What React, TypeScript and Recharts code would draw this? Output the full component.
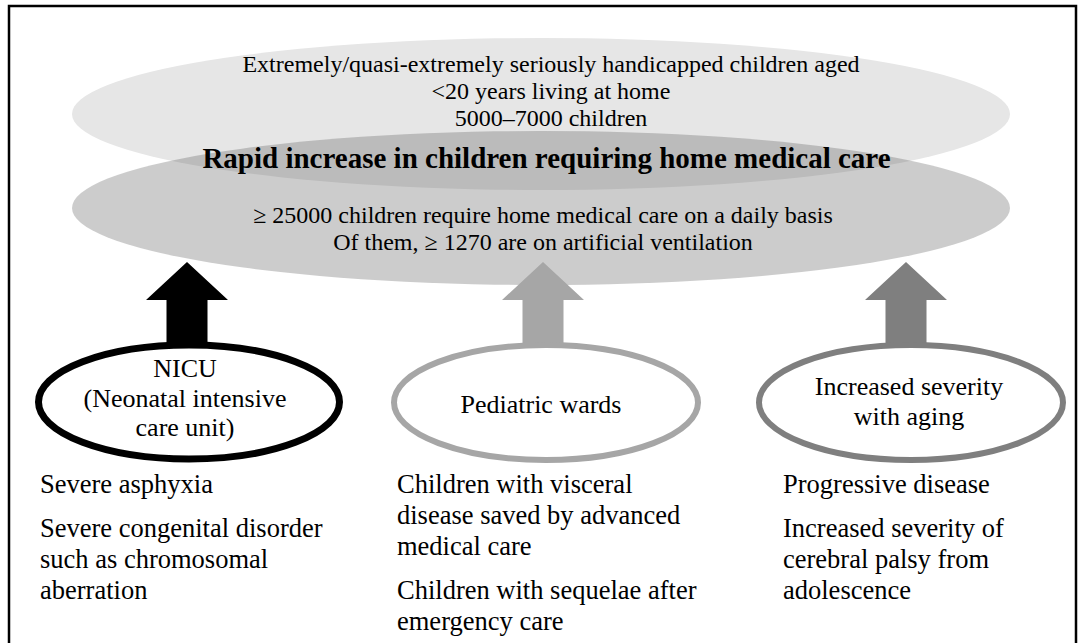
import { ScatterChart, Scatter, XAxis, YAxis, ReferenceArea } from "recharts";

const W = 1079;
const H = 643;

// texts
const burdenLines = [
  "Extremely/quasi-extremely seriously handicapped children aged",
  "<20 years living at home",
  "5000–7000 children",
];
const headline = "Rapid increase in children requiring home medical care";
const careLines = [
  "≥ 25000 children require home medical care on a daily basis",
  "Of them, ≥ 1270 are on artificial ventilation",
];
const sourceLabels = [
  ["NICU", "(Neonatal intensive", "care unit)"],
  ["Pediatric wards"],
  ["Increased severity", "with aging"],
];
const causes = [
  [["Severe asphyxia"], ["Severe congenital disorder", "such as chromosomal", "aberration"]],
  [["Children with visceral", "disease saved by advanced", "medical care"], ["Children with sequelae after", "emergency care"]],
  [["Progressive disease"], ["Increased severity of", "cerebral palsy from", "adolescence"]],
];

// anchors (page px, which equal data units here)
const cloudX = [541, 541];
const cloudY = [114, 208];
const cloudRy = [76, 77];
const sourceX = [189, 546, 911];
const sourceY = [402, 402.5, 402.5];
const labelX = [185, 541, 909];
const labelY = [377, 413, 395];
const arrowX = [187, 543, 906];
const arrowTipY = 262;
const causeX = [40, 397, 783];
const causeY = 493;

const shades = ["#000000", "#a6a6a6", "#7f7f7f"];
const FONT = "'Liberation Serif', 'Times New Roman', serif";

const clouds = cloudX.map((x, i) => ({ x, y: cloudY[i], ry: cloudRy[i], i }));
const arrows = arrowX.map((x, i) => ({ x, y: arrowTipY, i }));
const sources = sourceX.map((x, i) => ({ x, y: sourceY[i], i }));
const labels = labelX.map((x, i) => ({ x, y: labelY[i], lines: sourceLabels[i] }));
const causeBlocks = causeX.map((x, i) => ({ x, y: causeY, paras: causes[i] }));
const headerBlocks = [
  { x: 551, y: 72, lines: burdenLines, size: 24, weight: "normal", lh: 27 },
  { x: 546.5, y: 168, lines: [headline], size: 29, weight: "bold", lh: 29 },
  { x: 543, y: 223, lines: careLines, size: 24, weight: "normal", lh: 27 },
];

const Cloud = (p: any) =>
  p.payload.i === 0 ? (
    <ellipse cx={p.cx} cy={p.cy} rx={469} ry={p.payload.ry} fill="#e6e6e6" />
  ) : (
    <ellipse cx={p.cx} cy={p.cy} rx={469} ry={p.payload.ry} fill="#606060" fillOpacity={0.32} />
  );

const Arrow = (p: any) => {
  const { cx, cy } = p;
  const d = `M${cx},${cy} L${cx + 41},${cy + 38} L${cx + 20.5},${cy + 38} L${cx + 20.5},${cy + 85} L${cx - 20.5},${cy + 85} L${cx - 20.5},${cy + 38} L${cx - 41},${cy + 38} Z`;
  return <path d={d} fill={shades[p.payload.i]} />;
};

const Source = (p: any) => (
  <ellipse
    cx={p.cx}
    cy={p.cy}
    rx={p.payload.i === 0 ? 150.5 : 152}
    ry={p.payload.i === 0 ? 57 : 57.5}
    fill="#ffffff"
    stroke={shades[p.payload.i]}
    strokeWidth={p.payload.i === 0 ? 7 : 6}
  />
);

const Label = (p: any) => (
  <text x={p.cx} y={p.cy} textAnchor="middle" fontFamily={FONT} fontSize={26} fill="#000">
    {p.payload.lines.map((l: string, k: number) => (
      <tspan key={k} x={p.cx} dy={k ? 29.5 : 0}>
        {l}
      </tspan>
    ))}
  </text>
);

const Header = (p: any) => (
  <text
    x={p.cx}
    y={p.cy}
    textAnchor="middle"
    fontFamily={FONT}
    fontSize={p.payload.size}
    fontWeight={p.payload.weight}
    fill="#000"
  >
    {p.payload.lines.map((l: string, k: number) => (
      <tspan key={k} x={p.cx} dy={k ? p.payload.lh : 0}>
        {l}
      </tspan>
    ))}
  </text>
);

const Causes = (p: any) => {
  const rows: { t: string; y: number }[] = [];
  let y = p.cy;
  p.payload.paras.forEach((para: string[], pi: number) => {
    if (pi > 0) y += 44 - 31;
    para.forEach((t) => {
      rows.push({ t, y });
      y += 31;
    });
  });
  return (
    <g>
      {rows.map((r, k) => (
        <text key={k} x={p.cx} y={r.y} fontFamily={FONT} fontSize={26.5} fill="#000">
          {r.t}
        </text>
      ))}
    </g>
  );
};

export default function App() {
  return (
    <div style={{ position: "absolute", left: 0, top: 0, width: W, height: H, background: "#fff" }}>
      <ScatterChart width={W} height={H} margin={{ top: 0, right: 0, bottom: 0, left: 0 }}>
        <XAxis type="number" dataKey="x" domain={[0, W]} hide />
        <YAxis type="number" dataKey="y" domain={[0, H]} reversed hide />
        <ReferenceArea
          x1={9}
          x2={1076}
          y1={6}
          y2={700}
          ifOverflow="visible"
          fill="none"
          stroke="#000"
          strokeWidth={2.5}
        />
        <Scatter data={clouds} shape={Cloud} isAnimationActive={false} />
        <Scatter data={headerBlocks} shape={Header} isAnimationActive={false} />
        <Scatter data={arrows} shape={Arrow} isAnimationActive={false} />
        <Scatter data={sources} shape={Source} isAnimationActive={false} />
        <Scatter data={labels} shape={Label} isAnimationActive={false} />
        <Scatter data={causeBlocks} shape={Causes} isAnimationActive={false} />
      </ScatterChart>
    </div>
  );
}
